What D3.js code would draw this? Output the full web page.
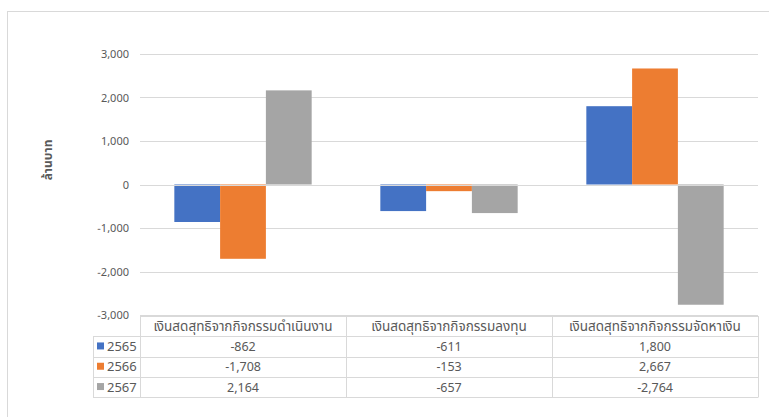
<!DOCTYPE html>
<html>
<head>
<meta charset="utf-8">
<script src="https://cdn.jsdelivr.net/npm/d3@7"></script>
<style>
  body { margin: 0; background: #fff; }
  text { font-family: "Noto Sans Thai", Tahoma, "Noto Sans", sans-serif; fill: #595959; }
</style>
</head>
<body>
<div id="chart"></div>
<script>
// cash flow chart, values in million baht
var categories = ["เงินสดสุทธิจากกิจกรรมดำเนินงาน", "เงินสดสุทธิจากกิจกรรมลงทุน", "เงินสดสุทธิจากกิจกรรมจัดหาเงิน"]
var years = ["2565", "2566", "2567"]
var v2565 = [-862, -611, 1800]
var v2566 = [-1708, -153, 2667]
var v2567 = [2164, -657, -2764]
var yTicks = [-3000, -2000, -1000, 0, 1000, 2000, 3000]
var yTitle = "ล้านบาท"

var seriesVals = [v2565, v2566, v2567]
var colors = ["#4472C4", "#ED7D31", "#A5A5A5"]

var W = 769, H = 417
var plot = {left: 140, right: 758, top: 54, bottom: 315}
var rowH = 20.3

var svg = d3.select("#chart").append("svg")
    .attr("width", W).attr("height", H)

// outer frame
svg.append("rect").attr("x", 7.5).attr("y", 11.5).attr("width", W).attr("height", H)
    .attr("fill", "none").attr("stroke", "#d9d9d9")

var x0 = d3.scaleBand().domain(categories).range([plot.left, plot.right])
var bw = x0.bandwidth()
var x1 = d3.scaleBand().domain(years).range([bw * 0.75 / 4.5, bw - bw * 0.75 / 4.5])
var y = d3.scaleLinear().domain([-3000, 3000]).range([plot.bottom, plot.top])

// gridlines
svg.append("g").selectAll("line").data(yTicks).join("line")
    .attr("x1", plot.left).attr("x2", plot.right)
    .attr("y1", d => Math.round(y(d)) + 0.5).attr("y2", d => Math.round(y(d)) + 0.5)
    .attr("stroke", "#d9d9d9")

// y axis labels
var yAxis = svg.append("g").attr("transform", "translate(" + (plot.left - 11) + ",0)")
    .call(d3.axisLeft(y).tickValues(yTicks).tickSize(0).tickPadding(0).tickFormat(d3.format(",")))
yAxis.select(".domain").remove()
yAxis.selectAll("text").style("font-size", "11px").attr("fill", "#595959")

svg.append("text").attr("transform", "translate(52,160) rotate(-90)")
    .attr("text-anchor", "middle").style("font-size", "12px").style("font-weight", "bold")
    .text(yTitle)

// bars
years.forEach(function(yr, i) {
  svg.append("g").selectAll("rect").data(seriesVals[i]).join("rect")
    .attr("x", (d, j) => x0(categories[j]) + x1(yr))
    .attr("width", x1.bandwidth())
    .attr("y", d => y(Math.max(0, d)))
    .attr("height", d => Math.abs(y(d) - y(0)))
    .attr("fill", colors[i])
})

// zero line on top
svg.append("line").attr("x1", plot.left).attr("x2", plot.right)
    .attr("y1", Math.round(y(0)) + 0.5).attr("y2", Math.round(y(0)) + 0.5)
    .attr("stroke", "#d9d9d9")

// data table
var tTop = plot.bottom + 1
var legLeft = 93
var tb = svg.append("g")
var lineCol = "#d9d9d9"
// header row
tb.append("line").attr("x1", plot.left).attr("x2", plot.right).attr("y1", tTop + 0.5).attr("y2", tTop + 0.5).attr("stroke", lineCol)
for (var r = 1; r <= 4; r++) {
  var yy = Math.round(tTop + r * rowH) + 0.5
  tb.append("line").attr("x1", legLeft).attr("x2", plot.right).attr("y1", yy).attr("y2", yy).attr("stroke", lineCol)
}
var tBot = Math.round(tTop + 4 * rowH) + 0.5
tb.append("line").attr("x1", legLeft + 0.5).attr("x2", legLeft + 0.5).attr("y1", Math.round(tTop + rowH)).attr("y2", tBot).attr("stroke", lineCol)
categories.forEach(function(c) {
  var xx = Math.round(x0(c)) + 0.5
  tb.append("line").attr("x1", xx).attr("x2", xx).attr("y1", tTop).attr("y2", tBot).attr("stroke", lineCol)
})
tb.append("line").attr("x1", plot.right + 0.5).attr("x2", plot.right + 0.5).attr("y1", tTop).attr("y2", tBot).attr("stroke", lineCol)

tb.selectAll("text.hd").data(categories).join("text")
    .attr("x", d => x0(d) + bw / 2).attr("y", tTop + rowH / 2 + 4.5)
    .attr("text-anchor", "middle").style("font-size", "13.5px")
    .text(d => d)

years.forEach(function(yr, i) {
  var cy = tTop + (i + 1) * rowH + rowH / 2
  tb.append("rect").attr("x", legLeft + 4).attr("y", cy - 4).attr("width", 7).attr("height", 7).attr("fill", colors[i])
  tb.append("text").attr("x", legLeft + 14).attr("y", cy + 4.5).style("font-size", "13px").text(yr)
  tb.selectAll("text.v" + i).data(seriesVals[i]).join("text")
    .attr("x", (d, j) => x0(categories[j]) + bw / 2).attr("y", cy + 4.5)
    .attr("text-anchor", "middle").style("font-size", "12.5px")
    .text(d => d3.format(",")(d))
})
</script>
</body>
</html>
